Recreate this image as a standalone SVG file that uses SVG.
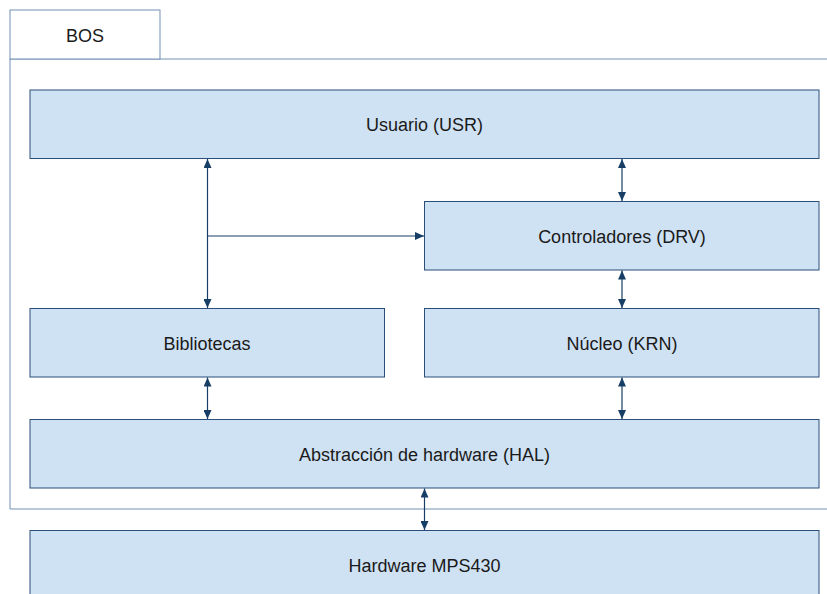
<svg xmlns="http://www.w3.org/2000/svg" width="827" height="594" viewBox="0 0 827 594">
<style>
.box{fill:#cfe2f3;stroke:#2b4f78;stroke-width:1}
.frame{fill:#ffffff;stroke:#7290b3;stroke-width:1}
.lbl{font-family:"Liberation Sans",Arial,sans-serif;font-size:18px;fill:#1a1a1a;text-anchor:middle}
.con{stroke:#173f66;stroke-width:1.2;fill:none}
</style>
<defs>
<marker id="ah" markerUnits="userSpaceOnUse" markerWidth="10" markerHeight="8" refX="9" refY="4" orient="auto-start-reverse">
<path d="M0,0 L9,4 L0,8 z" fill="#173f66"/>
</marker>
</defs>
<rect width="827" height="594" fill="#ffffff"/>
<g id="bos">
<path class="frame" d="M830,59 L10,59 L10,509 L830,509"/>
<rect class="frame" x="10" y="10" width="150" height="49"/>
<text class="lbl" x="85" y="42">BOS</text>
</g>
<g id="usr">
<rect class="box" x="30" y="90" width="789" height="68.5"/>
<text class="lbl" x="424.5" y="131">Usuario (USR)</text>
</g>
<g id="drv">
<rect class="box" x="424.5" y="201.5" width="394.5" height="68.5"/>
<text class="lbl" x="622" y="242.5">Controladores (DRV)</text>
</g>
<g id="lib">
<rect class="box" x="30" y="308.5" width="354.5" height="68.5"/>
<text class="lbl" x="207" y="349.5">Bibliotecas</text>
</g>
<g id="krn">
<rect class="box" x="424.5" y="308.5" width="394.5" height="68.5"/>
<text class="lbl" x="622" y="349.5">Núcleo (KRN)</text>
</g>
<g id="hal">
<rect class="box" x="30" y="419.5" width="789" height="68.5"/>
<text class="lbl" x="424.5" y="460.5">Abstracción de hardware (HAL)</text>
</g>
<g id="hw">
<rect class="box" x="30" y="530.5" width="789" height="80"/>
<text class="lbl" x="424.5" y="571.5">Hardware MPS430</text>
</g>
<g id="connectors">
<line class="con" x1="207.5" y1="159" x2="207.5" y2="308" marker-start="url(#ah)" marker-end="url(#ah)"/>
<line class="con" x1="207.5" y1="236" x2="424" y2="236" marker-end="url(#ah)"/>
<line class="con" x1="622" y1="159" x2="622" y2="201" marker-start="url(#ah)" marker-end="url(#ah)"/>
<line class="con" x1="622" y1="270.5" x2="622" y2="308" marker-start="url(#ah)" marker-end="url(#ah)"/>
<line class="con" x1="207.5" y1="377.5" x2="207.5" y2="419" marker-start="url(#ah)" marker-end="url(#ah)"/>
<line class="con" x1="622" y1="377.5" x2="622" y2="419" marker-start="url(#ah)" marker-end="url(#ah)"/>
<line class="con" x1="424.5" y1="488.5" x2="424.5" y2="530" marker-start="url(#ah)" marker-end="url(#ah)"/>
</g>
</svg>
